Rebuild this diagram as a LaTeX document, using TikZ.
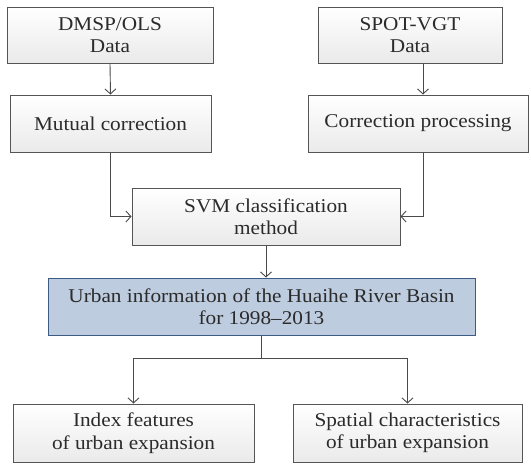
\documentclass[tikz,border=0pt]{standalone}
\usepackage{fontspec}
\setmainfont{Liberation Serif}[FakeStretch=1.09]
\usetikzlibrary{arrows.meta}
\definecolor{edgegray}{HTML}{555555}
\definecolor{boxtop}{HTML}{FFFFFF}
\definecolor{boxbot}{HTML}{EAEAEA}
\definecolor{bluefill}{HTML}{BDCCDF}
\definecolor{blueedge}{HTML}{3D5C85}
\definecolor{linegray}{HTML}{4A4A4A}
\definecolor{inkgray}{HTML}{2B2B2B}
\tikzset{
  stepbox/.style={draw=edgegray, line width=1pt, top color=boxtop, bottom color=boxbot,
    align=center, text=inkgray, font=\fontsize{19.5}{22.5}\selectfont, inner sep=0pt},
  keybox/.style={draw=blueedge, line width=1pt, fill=bluefill,
    align=center, text=inkgray, font=\fontsize{19.5}{22.5}\selectfont, inner sep=0pt},
  flow/.style={draw=linegray, line width=0.9pt, -{Straight Barb[length=5pt,width=11pt,line width=0.9pt]}},
  plain/.style={draw=linegray, line width=0.9pt}
}
\begin{document}
\begin{tikzpicture}[x=1pt,y=-1pt]
\useasboundingbox (0,0) rectangle (531,464);
% input data
\node[stepbox, minimum width=206pt, minimum height=56pt] (dmsp) at (110,35) {DMSP/OLS\\Data};
\node[stepbox, minimum width=184pt, minimum height=56pt] (spot) at (410,35) {SPOT-VGT\\Data};
% preprocessing
\node[stepbox, minimum width=201pt, minimum height=57pt] (mutual) at (110.5,123.5) {Mutual correction};
\node[stepbox, minimum width=220pt, minimum height=57pt] (corr) at (418,123.5) {Correction processing};
% classification
\node[stepbox, minimum width=268pt, minimum height=57pt] (svm) at (266,216.5) {SVM classification\\method};
% result
\node[keybox, minimum width=427pt, minimum height=57pt] (urban) at (261.5,306.5) {Urban information of the Huaihe River Basin\\for 1998--2013};
% analysis
\node[stepbox, minimum width=241pt, minimum height=58pt] (index) at (133.5,433) {Index features\\of urban expansion};
\node[stepbox, minimum width=229pt, minimum height=58pt] (spatial) at (407.5,433) {Spatial characteristics\\of urban expansion};
% connectors
\draw[flow] (dmsp.south) -- (mutual.north);
\draw[flow] ([xshift=13pt]spot.south) -- ([xshift=5pt]corr.north);
\draw[flow] (mutual.south) |- (svm.west);
\draw[flow] ([xshift=5pt]corr.south) |- (svm.east);
\draw[flow] (svm.south) -- ([xshift=4.5pt]urban.north);
\coordinate (split) at ([yshift=-23pt]urban.south);
\draw[plain] (urban.south) -- (split);
\draw[flow] (split) -| (index.north);
\draw[flow] (split) -| (spatial.north);
\end{tikzpicture}
\end{document}
